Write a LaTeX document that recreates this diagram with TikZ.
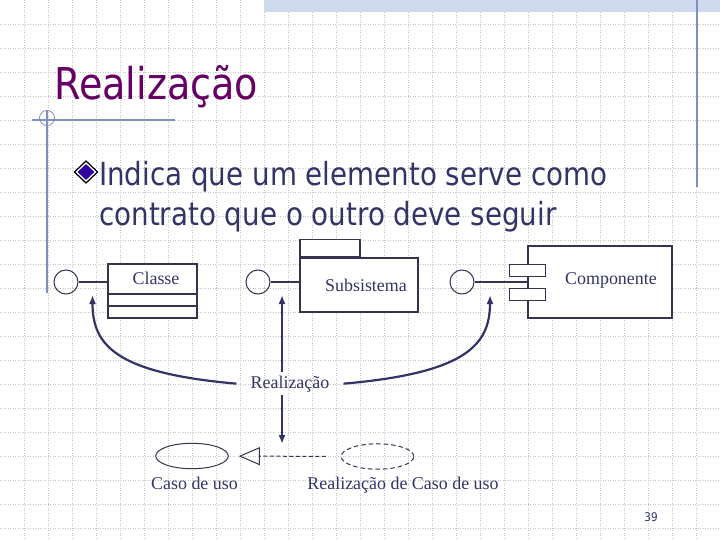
\documentclass[tikz,border=0pt]{standalone}
\usepackage{fontspec}
\setmainfont{Liberation Serif}
\newfontfamily\tahoma[FakeStretch=0.87]{DejaVu Sans}
\usetikzlibrary{arrows.meta,shapes.geometric,calc}
\definecolor{titlepurple}{RGB}{102,0,102}
\definecolor{navy}{RGB}{51,51,102}
\definecolor{gridc}{RGB}{198,198,198}
\definecolor{deco}{RGB}{128,144,190}
\definecolor{bandc}{RGB}{208,218,238}
\definecolor{linec}{RGB}{52,52,82}
\definecolor{bulletc}{RGB}{51,0,160}
\tikzset{
  gridline/.style={draw=gridc, line width=0.7bp, dash pattern=on 1bp off 1.5bp},
  decoline/.style={draw=deco, line width=1.3bp},
  umlbox/.style={draw=linec, line width=1.2bp, fill=white, rectangle, inner sep=0},
  iface/.style={draw=linec, line width=1bp, circle, minimum size=24bp, inner sep=0},
  assoc/.style={draw=linec, line width=1.2bp},
  realarrow/.style={draw=navy, line width=2.2bp, -{Latex[length=9bp,width=7bp]}},
  lbl/.style={font=\fontsize{18}{20}\selectfont, text=navy, inner sep=0, anchor=base},
  usecase/.style={draw=linec, line width=1bp, ellipse, minimum width=72.6bp, minimum height=25.4bp, inner sep=0},
}
\begin{document}
\begin{tikzpicture}[x=1bp,y=-1bp]
\useasboundingbox (0,0) rectangle (720,540);
\fill[white] (0,0) rectangle (720,540);
% background grid
\foreach \g in {24,48,...,696} \draw[gridline] (\g,0) -- (\g,540);
\foreach \g in {24,48,...,528} \draw[gridline] (0,\g) -- (720,\g);
% top band and decoration lines
\fill[bandc] (264,0) rectangle (720,12.5);
\draw[decoline] (697,0) -- (697,187);
\draw[decoline] (32,120) -- (175,120);
\draw[decoline] (47,111) -- (47,293);
\draw[draw=deco, line width=0.8bp] (47,118) circle (7.5);
% title
\node[anchor=base west, inner sep=0, font=\tahoma\fontsize{44}{50}\selectfont, text=titlepurple] (title) at (54,100) {Realização};
% bullet
\node[diamond, fill=black, minimum width=25bp, minimum height=24bp, inner sep=0] (bul) at (86,172) {};
\node[diamond, fill=white, minimum width=21bp, minimum height=20bp, inner sep=0] at (bul) {};
\node[diamond, fill=bulletc, minimum width=17bp, minimum height=16bp, inner sep=0] at (bul) {};
\node[anchor=base west, inner sep=0, font=\tahoma\fontsize{32}{40}\selectfont, text=navy] (l1) at (99,186) {Indica que um elemento serve como};
\node[anchor=base west, inner sep=0, font=\tahoma\fontsize{32}{40}\selectfont, text=navy] (l2) at (99,226) {contrato que o outro deve seguir};
% Classe
\node[umlbox, minimum width=89bp, minimum height=54bp] (classe) at (152.5,291) {};
\draw[assoc] (classe.west |- 0,294) -- (classe.east |- 0,294);
\draw[assoc] (classe.west |- 0,306) -- (classe.east |- 0,306);
\node[lbl] (classetxt) at (156,285) {Classe};
\node[iface] (ic1) at (66,282) {};
\draw[assoc] (ic1) -- (ic1 -| classe.west);
% Subsistema
\node[umlbox, minimum width=118bp, minimum height=54bp] (subs) at (359,285) {};
\node[umlbox, minimum width=60bp, minimum height=17bp, anchor=south west] (tab) at (subs.north west) {};
\node[lbl] (substxt) at (366,291) {Subsistema};
\node[iface] (ic2) at (258,282) {};
\draw[assoc] (ic2) -- (ic2 -| subs.west);
% Componente
\node[umlbox, minimum width=144bp, minimum height=72bp] (comp) at (600,282) {};
\node[umlbox, minimum width=36bp, minimum height=12bp] (port1) at (527.5,270.3) {};
\node[umlbox, minimum width=36bp, minimum height=12bp] (port2) at (527.5,294.3) {};
\node[lbl] (comptxt) at (611,285) {Componente};
\node[iface] (ic3) at (462,282) {};
\draw[assoc] (ic3) -- (ic3 -| comp.west);
% Realizacao label and arrows
\node[lbl, inner xsep=14bp, inner ysep=3bp] (real) at (290,388) {Realização};
\coordinate (t1) at (92.5,295);
\coordinate (t2) at (282,295);
\coordinate (t3) at (282,444);
\coordinate (t4) at (490,295);
\draw[realarrow] (real.west) .. controls (115,373) and (92.5,345) .. (t1);
\draw[realarrow] (real.east) .. controls (466,373) and (490,345) .. (t4);
\draw[realarrow] (t2 |- real.north) -- (t2);
\draw[realarrow] (t3 |- real.south) -- (t3);
% use cases
\node[usecase] (uc) at (192,456) {};
\node[usecase, dash pattern=on 4.5bp off 3bp] (ucr) at (377.5,456.5) {};
\draw[draw=linec, line width=1bp, dash pattern=on 4bp off 2.5bp, shorten <=14.8bp, shorten >=10bp, -{Triangle[open, length=21bp, width=18bp, line width=1bp]}] (ucr) -- (uc);
\node[lbl] (uctxt) at (194.5,489) {Caso de uso};
\node[lbl] (ucrtxt) at (403,489) {Realização de Caso de uso};
% page number
\node[anchor=base, inner sep=0, font=\tahoma\fontsize{12}{14}\selectfont, text=navy] (pg) at (651,521) {39};
\end{tikzpicture}
\end{document}
